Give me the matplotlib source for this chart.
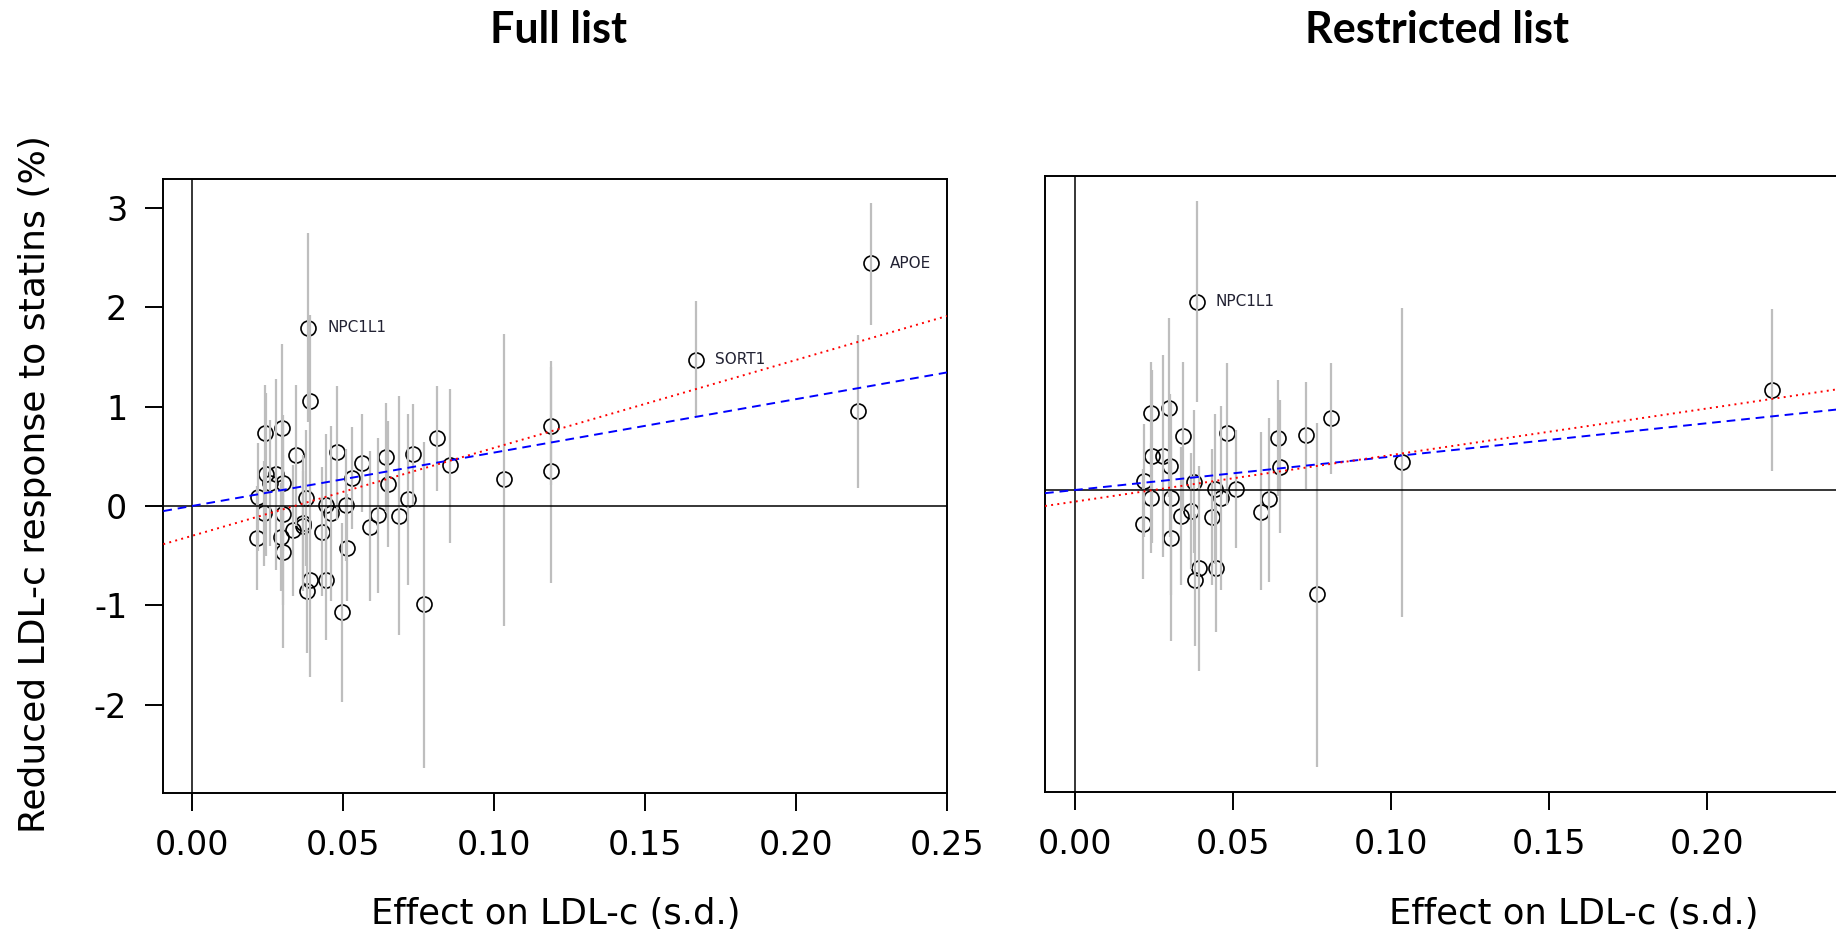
import matplotlib
matplotlib.use('Agg')
import matplotlib.pyplot as plt
import numpy as np

plt.rcParams['font.family'] = ['DejaVu Sans']

# ---------------- data ----------------
effect_ldl = [0.0385, 0.0390, 0.0241, 0.0299, 0.0343, 0.0481, 0.0562, 0.0641, 0.0732, 0.0811,
              0.0855, 0.0529, 0.0649, 0.0714, 0.1034, 0.1190, 0.1190, 0.1670, 0.2205, 0.2248,
              0.0767, 0.0588, 0.0615, 0.0684, 0.0498, 0.0512, 0.0215, 0.0392, 0.0381, 0.0445,
              0.0295, 0.0303, 0.0432, 0.0366, 0.0245, 0.0277, 0.0257, 0.0300, 0.0218, 0.0378,
              0.0444, 0.0509, 0.0240, 0.0303, 0.0461, 0.0334, 0.0367]
statin_resp = [1.79, 1.06, 0.73, 0.78, 0.51, 0.54, 0.43, 0.49, 0.52, 0.68,
               0.41, 0.28, 0.22, 0.07, 0.27, 0.80, 0.355, 1.47, 0.95, 2.44,
               -0.99, -0.21, -0.09, -0.10, -1.07, -0.42, -0.325, -0.744, -0.855, -0.744,
               -0.31, -0.46, -0.257, -0.20, 0.32, 0.32, 0.23, 0.23, 0.09, 0.08,
               0.01, 0.01, -0.075, -0.08, -0.075, -0.245, -0.17]
ci_low = [0.84, 0.20, 0.22, -0.07, -0.20, -0.14, -0.06, -0.06, 0.01, 0.15,
          -0.37, -0.23, -0.41, -0.79, -1.21, 0.21, -0.77, 0.895, 0.18, 1.82,
          -2.63, -0.95, -0.87, -1.30, -1.97, -0.95, -0.845, -1.72, -1.48, -1.35,
          -0.85, -1.43, -0.90, -0.75, -0.50, -0.64, -0.40, -0.45, -0.45, -0.60,
          -0.70, -0.55, -0.60, -1.00, -0.95, -0.90, -0.85]
ci_high = [2.74, 1.92, 1.22, 1.63, 1.22, 1.21, 0.92, 1.04, 1.03, 1.21,
           1.18, 0.79, 0.85, 0.92, 1.73, 1.46, 1.40, 2.06, 1.72, 3.05,
           0.64, 0.55, 0.68, 1.11, -0.17, 0.12, 0.20, 0.23, -0.23, -0.14,
           0.23, 0.51, 0.39, 0.35, 1.14, 1.28, 0.86, 0.91, 0.63, 0.76,
           0.72, 0.57, 0.45, 0.84, 0.80, 0.41, 0.51]
in_restricted = [1, 0, 1, 1, 1, 1, 0, 1, 1, 1,
                 0, 0, 1, 0, 1, 0, 0, 0, 1, 0,
                 1, 1, 1, 0, 0, 0, 1, 1, 1, 1,
                 0, 1, 1, 1, 1, 1, 0, 1, 1, 1,
                 1, 1, 1, 1, 1, 1, 0]
gene_labels = {0: 'NPC1L1', 17: 'SORT1', 19: 'APOE'}

# fitted lines (slope / intercept)
full_ivw_slope = 5.37
full_egger_slope, full_egger_int = 8.84, -0.30
restr_ivw_slope = 3.17
restr_egger_slope, restr_egger_int = 4.42, -0.11

x_ticks_full = [0.00, 0.05, 0.10, 0.15, 0.20, 0.25]
x_ticks_restr = [0.00, 0.05, 0.10, 0.15, 0.20]
y_ticks = [-2, -1, 0, 1, 2, 3]

# ---------------- figure ----------------
W, H = 1836, 940
fig = plt.figure(figsize=(W / 100, H / 100), dpi=100)


def fx(px):
    return px / W


def fy(py):
    return 1 - py / H


axL = fig.add_axes([fx(163.3), fy(792.5), (947 - 163.3) / W, (792.5 - 178.7) / H])
axR = fig.add_axes([fx(1045), fy(792), (1864 - 1045) / W, (792 - 176) / H])

x = np.array(effect_ldl)
y = np.array(statin_resp)
lo = np.array(ci_low)
hi = np.array(ci_high)
mask = np.array(in_restricted, dtype=bool)


def draw_panel(ax, sel, ivw_slope, eg_slope, eg_int, xlim, ylim, xticks, show_y):
    ax.plot(x[sel], y[sel], 'o', mfc='none', mec='black', ms=10.8, mew=1.2, zorder=2)
    ax.vlines(x[sel], lo[sel], hi[sel], color='#BEBEBE', lw=1.6, zorder=3)
    ax.axhline(0, color='black', lw=1.1, zorder=3.5)
    ax.axvline(0, color='black', lw=1.1, zorder=3.5)
    ax.axline((0, 0), slope=ivw_slope, color='#0000FF', lw=1.4, ls=(0, (4.5, 3.0)), zorder=4)
    ax.axline((0, eg_int), slope=eg_slope, color='#FF0000', lw=1.4, ls=(0, (1.0, 2.2)), zorder=4.2)
    for i, name in gene_labels.items():
        if sel[i]:
            ax.annotate(name, (x[i], y[i]), xytext=(13.5, 0), textcoords='offset points',
                        ha='left', va='center', fontsize=11, color='#222233', zorder=5)
    ax.set_xlim(*xlim)
    ax.set_ylim(*ylim)
    ax.set_xticks(xticks)
    ax.set_xticklabels(['%.2f' % t for t in xticks])
    ax.tick_params(axis='x', direction='out', length=13, width=1.4, pad=13, labelsize=24)
    if show_y:
        ax.set_yticks(y_ticks)
        ax.set_yticklabels([str(t) for t in y_ticks])
        ax.tick_params(axis='y', direction='out', length=13, width=1.4, pad=13, labelsize=24)
    else:
        ax.set_yticks([])
    for s in ax.spines.values():
        s.set_linewidth(1.4)
        s.set_color('black')


draw_panel(axL, np.ones_like(mask), full_ivw_slope, full_egger_slope, full_egger_int,
           (-0.0095, 0.25), (-2.88, 3.29), x_ticks_full, True)
draw_panel(axR, mask, restr_ivw_slope, restr_egger_slope, restr_egger_int,
           (-0.0095, 0.2497), (-2.868, 2.982), x_ticks_restr, False)

fig.text(fx(556), fy(914), 'Effect on LDL-c (s.d.)', ha='center', va='center', fontsize=25.5)
fig.text(fx(1574), fy(914), 'Effect on LDL-c (s.d.)', ha='center', va='center', fontsize=25.5)
fig.text(fx(35), fy(484), 'Reduced LDL-c response to statins (%)', ha='center', va='center',
         rotation=90, fontsize=26)

fig.text(fx(558), fy(30), 'Full list', ha='center', va='center', fontsize=31,
         family='Lato', fontweight='bold')
fig.text(fx(1437), fy(30), 'Restricted list', ha='center', va='center', fontsize=31,
         family='Lato', fontweight='bold')

fig.savefig('out.png', dpi=100)
